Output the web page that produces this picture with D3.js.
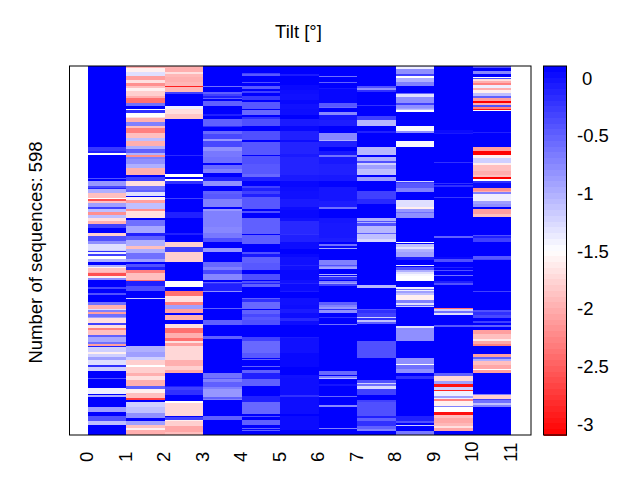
<!DOCTYPE html>
<html>
<head>
<meta charset="utf-8">
<script src="https://cdn.jsdelivr.net/npm/d3@7/dist/d3.min.js"></script>
<style>
html,body{margin:0;padding:0;background:#fff}
svg{display:block}
text{font-family:"Liberation Sans",Arial,sans-serif;fill:#000}
</style>
</head>
<body>
<div id="chart"></div>
<script>
// Tick labels and text
const xTicks = [0,1,2,3,4,5,6,7,8,9,10,11];
const cbTicks = [0,-0.5,-1,-1.5,-2,-2.5,-3];
const titleText = "Tilt [°]";
const yLabelText = "Number of sequences: 598";
const rowCount = 598;

// Each column: runs of sequences, [last row of the run, tilt value]
const col0 = [[132,.1],[138,-.25],[141,-.1],[145,-1.5],[181,.1],[183,-.4],[186,.1],[194,-.85],[198,-.35],[200,-.1],[206,-1],[214,-1.9],[216,-1.5],[218,-2.6],[222,-1.9],[228,-.9],[232,-.3],[237,-1.1],[241,-2.2],[246,-1.1],[252,-1.7],[256,-2],[262,-.3],[270,.1],[275,-1.8],[283,-.4],[288,-.8],[298,-1.3],[300,-1.2],[302,-.2],[304,-1.4],[308,-.3],[312,-1.5],[317,-1],[322,.1],[325,-1],[328,-1.6],[334,-1.9],[336,-2],[340,-2.6],[343,-1.6],[347,-.8],[358,.1],[362,-.35],[368,.1],[371,-.4],[382,.1],[387,-.6],[393,-2],[395,-1.3],[398,-.7],[402,-2.1],[406,-.6],[409,-.9],[417,-1.7],[419,-.3],[424,-1.7],[428,-2.3],[436,-1.9],[439,-.5],[448,-.95],[450,-.6],[453,-2.1],[456,-.1],[463,-1.2],[466,-1.6],[471,-1.2],[476,-.9],[484,-1.3],[487,-.2],[495,-1.2],[506,.1],[508,-.4],[522,.1],[531,-1.4],[533,.1],[536,-1],[552,.1],[561,-.9],[568,.1],[576,-.4],[582,-1.1],[598,.1]];
const col1 = [[3,-2],[10,-1.6],[17,-1.3],[23,-2.1],[27,-1.7],[33,-2.2],[36,-1.9],[40,-1.6],[49,-1.8],[52,-2],[60,-2.4],[65,-.6],[70,.1],[72,-1.5],[76,-.2],[82,-1.5],[84,-1.7],[90,-2],[97,-.7],[100,-1.9],[108,-2.3],[116,-1.9],[122,-1.1],[129,-2],[134,-1],[141,-.5],[144,-1],[147,-2.2],[150,-.7],[159,-.8],[165,-1],[176,-2],[180,.1],[186,-.3],[194,-1.7],[201,-.6],[204,-.5],[211,-1.3],[213,.1],[217,-1.6],[222,-2.1],[232,-1.1],[235,-2.2],[246,-1.7],[250,.1],[260,-.6],[271,-.95],[275,-.1],[282,-.5],[291,-1],[297,-1.9],[303,-1],[313,-.6],[317,-.9],[321,.1],[326,-.4],[331,-.1],[336,-2.3],[347,-1.9],[348,-2.4],[357,-.1],[364,-.4],[376,.1],[377,-1.2],[453,.1],[463,-1],[471,-.9],[477,-1.2],[484,-1.8],[488,-1.5],[498,-1.8],[503,-2],[509,-1.7],[519,-2],[523,-.5],[530,-1.6],[538,-1.9],[542,-2.7],[544,.1],[552,-1.2],[563,-1.1],[571,-.8],[576,.1],[582,-.9],[586,-1.9],[590,-1.6],[598,-2]];
const col2 = [[10,-2],[13,-1.7],[18,-1.95],[26,-2],[32,-1.95],[34,-2.9],[42,-1.95],[45,-.3],[65,.1],[70,-1.4],[78,-1.7],[86,-1.85],[144,.1],[146,-.15],[175,.1],[180,-1.5],[183,.1],[186,-1.5],[192,-.2],[214,.1],[215,-.3],[237,.1],[246,-.1],[270,.1],[274,-.1],[285,.1],[294,-1.8],[301,-.3],[317,-1.8],[348,.1],[358,-1.5],[364,.1],[373,-2.4],[382,-1.7],[387,-2.3],[394,-.9],[401,-2.1],[403,.1],[412,-2],[418,.1],[425,-1.7],[433,-2.4],[441,-2],[445,-2.4],[449,-1.7],[453,-2.1],[477,-1.75],[486,-2],[492,-1.8],[497,-2.05],[518,.1],[520,-.1],[525,-.3],[533,-.2],[543,.1],[546,-1.5],[567,-1.75],[569,.1],[573,-.3],[576,-1.6],[583,-1.8],[593,-2.05],[598,-1.9]];
const col3 = [[32,.1],[34,-.6],[42,.1],[45,-.5],[49,-.3],[52,-.1],[54,-.5],[57,.1],[65,-.5],[78,.1],[81,-.1],[86,.1],[97,-.5],[99,-.2],[105,.1],[111,-.55],[118,-.35],[122,-.85],[131,-.35],[138,-.8],[147,-.65],[157,-.6],[160,.1],[167,-.55],[174,-.7],[180,.1],[186,-.1],[194,-.8],[202,.1],[207,-.5],[215,-.45],[229,-.7],[232,.1],[235,-.85],[261,-.7],[271,-.75],[278,-.65],[285,-.4],[295,.1],[301,-.85],[317,.1],[325,-.55],[331,-.7],[337,-.35],[347,-.75],[350,.1],[352,-.5],[354,-.2],[364,-.1],[366,-.8],[392,.1],[394,-.5],[400,.1],[401,-.5],[411,.1],[419,-.5],[438,.1],[442,-.5],[498,.1],[505,-.6],[508,-.4],[512,-.7],[520,-.5],[524,-.7],[537,-.85],[540,-.5],[542,-.7],[567,.1],[574,-.5],[598,.1]];
const col4 = [[11,.1],[13,-.3],[17,-.45],[26,.1],[28,-.4],[33,.1],[38,-.45],[41,.1],[43,-.3],[49,.1],[55,-.25],[58,.1],[69,-.45],[71,.1],[79,-.55],[82,.1],[86,-.2],[98,-.4],[106,.1],[120,-.4],[123,.1],[144,-.45],[146,.1],[159,-.4],[175,-.45],[180,-.55],[187,-.1],[194,.1],[198,-.3],[202,-.1],[207,-.3],[213,-.1],[232,-.45],[235,.1],[238,-.4],[246,.1],[272,-.5],[274,.1],[289,-.5],[301,.1],[304,-.4],[309,-.05],[319,-.5],[331,-.45],[337,.1],[347,-.4],[349,.1],[352,-.4],[354,-.1],[358,-.5],[376,.1],[378,-.5],[382,-.2],[393,-.55],[395,.1],[402,-.5],[406,-.35],[411,-.45],[419,-.4],[439,.1],[446,-.3],[465,-.55],[473,-.45],[475,.1],[477,-.5],[486,.1],[488,-.5],[492,.1],[497,-.5],[508,-.1],[518,-.5],[535,.1],[544,-.1],[564,-.55],[567,.1],[569,-.4],[574,.1],[582,-.5],[586,.1],[588,-.5],[590,.1],[592,-.5],[598,.1]];
const col5 = [[13,.1],[16,-.06],[31,.1],[39,.05],[45,.02],[55,0],[62,.05],[69,0],[79,.02],[86,.1],[98,-.06],[106,.05],[120,-.1],[123,.02],[142,-.12],[147,-.06],[176,-.12],[186,-.06],[196,.05],[202,.02],[215,0],[228,-.06],[234,.02],[246,.05],[251,0],[272,-.15],[274,-.2],[285,-.1],[297,.02],[304,.1],[309,.05],[322,0],[324,-.1],[331,0],[347,.05],[352,0],[354,-.1],[365,.03],[367,-.06],[376,.1],[387,0],[393,.02],[401,-.06],[409,.02],[414,-.15],[419,.02],[439,.1],[441,-.06],[465,0],[487,.05],[500,.1],[506,0],[533,.01],[536,-.2],[564,.02],[567,.1],[590,.03],[598,.1]];
const col6 = [[16,.1],[18,-.6],[26,.1],[28,-.5],[36,.1],[37,-.03],[60,.06],[66,-.45],[68,-.55],[75,.1],[80,-.75],[88,-.03],[98,-.08],[108,.1],[120,-.75],[122,-1],[131,-.1],[138,.1],[144,-.05],[147,-.6],[159,-.05],[176,-.1],[186,-.05],[196,.08],[219,-.03],[229,-.08],[231,-.6],[246,.1],[254,-.03],[278,-.05],[285,-.08],[288,.1],[291,-.6],[295,.05],[297,-.95],[314,.1],[322,-.7],[324,-.4],[326,-.7],[329,-.9],[337,.1],[339,-1],[340,.1],[342,-.9],[346,-.2],[348,.1],[352,-.7],[354,-.9],[356,-.3],[383,.1],[388,-.5],[391,-.7],[393,-.85],[395,-.2],[401,-.8],[406,.1],[409,-.2],[418,.1],[419,-.6],[495,.1],[501,-.55],[503,.1],[505,-.7],[508,-1.1],[515,.1],[519,-.03],[534,.1],[536,-.55],[549,.1],[552,-.75],[578,.1],[579,-.3],[586,.1],[588,-.7],[598,.1]];
const col7 = [[32,.1],[36,-.4],[39,-.8],[42,-.2],[63,.1],[65,-.2],[81,.1],[88,-.3],[98,-1.05],[106,.1],[108,-.1],[132,.1],[144,-1.05],[148,.1],[154,-1],[157,-.4],[160,-1.2],[167,-.9],[176,-1.1],[180,.1],[187,-.9],[202,.1],[215,-.3],[224,-.15],[246,.1],[251,-1],[253,-.4],[255,-1],[260,-.4],[270,-1.05],[273,-.5],[281,-1.1],[285,-1.25],[355,.1],[360,-1.05],[393,.1],[396,-.4],[400,-.2],[401,-1],[406,-.3],[408,-1.2],[412,-.2],[415,-1.1],[418,-.5],[445,.1],[473,-.4],[509,.1],[513,-.4],[516,-1.2],[519,-.6],[524,-1.25],[533,-.3],[541,.1],[544,-.3],[567,-.4],[570,-.1],[576,-.5],[584,-.2],[588,-.5],[591,-.7],[598,.1]];
const col8 = [[1,-1.2],[5,-1.4],[13,-.8],[17,-.3],[19,-1.5],[26,-1],[32,-.7],[43,.1],[46,-.55],[51,-1.3],[60,-.8],[64,-.3],[68,-.8],[70,-.9],[72,-1.1],[74,-1.5],[98,.1],[105,-1.45],[108,-.8],[121,.1],[131,-1.45],[186,.1],[188,-1.2],[190,-.3],[198,-.45],[205,-.7],[217,.1],[229,-1.3],[231,-1.6],[236,-.85],[239,-.6],[246,-.8],[285,.1],[287,-1.5],[289,.1],[293,-1.1],[297,-1.3],[301,-1],[309,-.9],[314,-.1],[322,.1],[324,-1.4],[326,.1],[330,-.4],[334,-1],[337,-1.3],[341,-1.45],[348,-1.5],[358,.1],[361,-1.4],[363,-.6],[365,-1.4],[368,-.9],[371,-1.1],[379,-1.6],[384,-.7],[387,-1.3],[389,-.5],[391,-1.2],[422,.1],[425,-1.3],[445,-.8],[473,.1],[483,-.8],[484,-1.5],[491,-.6],[497,-.8],[503,.1],[508,-.2],[568,.1],[576,-.1],[578,-.4],[581,.1],[583,-1.2],[592,.1],[598,-.65]];
const col9 = [[104,.1],[108,.03],[111,-.05],[156,.1],[157,-.2],[190,.1],[191,-.2],[193,.1],[196,-.2],[212,.1],[214,-.25],[276,.1],[278,-.5],[309,.1],[313,.03],[317,-.4],[326,.1],[328,-.1],[330,.1],[332,-.4],[338,.1],[340,-.6],[349,.1],[352,-.1],[355,-.4],[392,.1],[394,-2.4],[397,-1.2],[401,-.6],[403,-1.3],[419,.1],[423,-.45],[497,.1],[502,-.5],[510,-1.75],[516,-.9],[520,-3],[525,-1.2],[527,-2.9],[534,-1.4],[538,-.9],[540,-1.4],[543,-2.3],[551,-1.6],[553,-.7],[560,-1.5],[566,-3],[571,-1.9],[579,-2.05],[584,-1.95],[587,-1.7],[591,-2.05],[598,.1]];
const col10 = [[3,-.4],[8,.1],[13,-.75],[18,.1],[19,-1.5],[21,-.4],[25,-1.7],[28,-2],[31,-2.3],[36,-1.4],[39,-2],[44,-1.6],[48,-1.1],[52,-.5],[57,-2.1],[60,-3.1],[64,-2],[67,-.4],[69,-2.3],[71,-3],[73,-1.5],[107,.1],[108,-.1],[131,.1],[137,-2.1],[145,-3.1],[149,-1.6],[157,-1.2],[160,-1.6],[170,-1.9],[177,-2],[180,-1.9],[183,-3.1],[186,-1.5],[190,-.2],[197,.03],[202,-2.2],[205,-2],[207,-.7],[219,-1.4],[224,-.9],[229,-.8],[231,.1],[240,-2.1],[245,-1.9],[274,.1],[275,-.4],[279,-.1],[285,-.3],[308,.1],[312,-.45],[315,-.35],[365,.1],[366,-.3],[369,.1],[370,-.2],[396,.1],[398,-.4],[403,-.2],[408,-.35],[414,.1],[416,-.3],[419,.1],[423,-.5],[428,.1],[435,-2.1],[442,-1.9],[446,-1.65],[450,-2.05],[453,-2.3],[466,.1],[472,-2.1],[475,-.5],[478,-1],[485,-1.9],[491,-2.05],[493,-1.5],[497,-2.1],[531,.1],[533,-.7],[540,-1.8],[542,-.3],[546,-.6],[549,-1.1],[552,-.7],[598,.1]];
const columns = [col0,col1,col2,col3,col4,col5,col6,col7,col8,col9,col10];

const W = 640, H = 480;
const plot = {l:69.5, r:531, t:66, b:435};
const bar = {l:543.5, r:566.5};
const fontSize = 18.5;

const svg = d3.select("#chart").append("svg").attr("width",W).attr("height",H);

const x = d3.scaleLinear().domain([-0.48,11.52]).range([plot.l,plot.r]);
const y = d3.scaleLinear().domain([0,rowCount]).range([plot.t,plot.b]);
const cbY = d3.scaleLinear().domain([0.1,-3.1]).range([plot.t,plot.b]);
const color = d3.scaleLinear().domain([-3.1,-1.5,0.1]).range(["#ff0000","#ffffff","#0000ff"]).clamp(true);

// heat map
columns.forEach((runs,c)=>{
  let prev = 0;
  const cells = runs.map(([end,v])=>{const s={c,start:prev,end,v};prev=end;return s;});
  svg.append("g").attr("shape-rendering","crispEdges").selectAll("rect").data(cells).join("rect")
    .attr("x",d=>x(d.c)).attr("width",x(c+1)-x(c))
    .attr("y",d=>y(d.start)).attr("height",d=>y(d.end)-y(d.start))
    .attr("fill",d=>color(d.v));
});

// frame
svg.append("rect").attr("x",plot.l).attr("y",plot.t).attr("width",plot.r-plot.l).attr("height",plot.b-plot.t)
  .attr("fill","none").attr("stroke","#000").attr("stroke-width",1);

// x axis
const xAxis = d3.axisBottom(x).tickValues(xTicks).tickSize(0).tickFormat(d3.format("d"));
const gx = svg.append("g").attr("transform",`translate(0,${plot.b})`).call(xAxis);
gx.select(".domain").remove();
gx.selectAll("text").attr("font-size",fontSize).attr("font-family",null)
  .attr("text-anchor","start").attr("dy",null).attr("y",null)
  .attr("transform","translate(5,27) rotate(-90)");

// colour bar
const steps = d3.range(64);
const sv = d3.scaleLinear().domain([0,64]).range([0.1,-3.1]);
svg.append("g").attr("shape-rendering","crispEdges").selectAll("rect").data(steps).join("rect")
  .attr("x",bar.l).attr("width",bar.r-bar.l)
  .attr("y",d=>cbY(sv(d))).attr("height",d=>cbY(sv(d+1))-cbY(sv(d))+0.5)
  .attr("fill",d=>color(sv(d+0.5)));
svg.append("rect").attr("x",bar.l).attr("y",plot.t).attr("width",bar.r-bar.l).attr("height",plot.b-plot.t)
  .attr("fill","none").attr("stroke","#000").attr("stroke-width",1);
const cbAxis = d3.axisRight(cbY).tickValues(cbTicks).tickSize(0).tickFormat(d=>String(d));
const gc = svg.append("g").attr("transform",`translate(${bar.r},0)`).call(cbAxis);
gc.select(".domain").remove();
gc.selectAll("text").attr("font-size",fontSize).attr("font-family",null)
  .attr("x",d=>d<0?10.5:15.5).attr("dy","0.36em");

// titles
svg.append("text").attr("x",298.5).attr("y",38).attr("text-anchor","middle").attr("font-size",fontSize).text(titleText);
svg.append("text").attr("transform","translate(42,252.5) rotate(-90)").attr("text-anchor","middle").attr("font-size",fontSize).text(yLabelText);
</script>
</body>
</html>
